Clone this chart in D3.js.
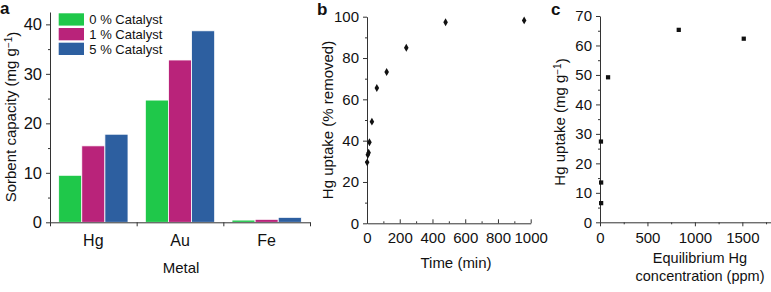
<!DOCTYPE html>
<html lang="en">
<head>
    <meta charset="UTF-8">
    <title>Sorbent capacity and Hg uptake</title>
    <script src="https://d3js.org/d3.v7.min.js"></script>
    <style>
        body { margin: 0; background: #fff; }
        svg text { font-family: 'Liberation Sans', Arial, Helvetica, sans-serif; fill: #111; }
        .domain, .tick line { stroke: #333; stroke-width: 1; }
        .panel-label { font-weight: bold; font-size: 17px; }
    </style>
</head>
<body>
<script>
    // panel a data
    const metals = ["Hg", "Au", "Fe"];
    const catalysts = ["0 % Catalyst", "1 % Catalyst", "5 % Catalyst"];
    const cat0 = [9.5, 24.7, 0.45];
    const cat1 = [15.45, 32.8, 0.6];
    const cat5 = [17.8, 38.7, 1.0];
    const barColors = ["#1fc84a", "#b9237a", "#2d5fa0"];

    // panel b data
    const timeMin = [1, 5, 10, 15, 30, 60, 120, 240, 480, 960];
    const uptakePct = [29.5, 33.2, 34.2, 39.2, 49.2, 65.5, 73.2, 85.0, 97.3, 98.2];

    // panel c data
    const eqConc = [12, 12, 10, 85, 830, 1515];
    const hgUptake = [6.5, 13.5, 27.4, 49.2, 65.3, 62.3];

    const svg = d3.select("body").append("svg")
        .attr("width", 771)
        .attr("height", 292);

    const tickFont = "15px";
    const titleFont = "15px";

    // helper: major + minor ticks on an axis
    function axisPair(g, axisFn, scale, major, minor, opts) {
        const inward = opts.inward ? -1 : 1;
        g.append("g").call(axisFn(scale).tickValues(minor).tickSize(2 * inward).tickFormat(""))
            .select(".domain").remove();
        const a = g.append("g").call(axisFn(scale).tickValues(major).tickSize(4 * inward)
            .tickSizeOuter(0).tickPadding(opts.pad).tickFormat(d3.format("d")));
        a.selectAll("text").style("font-size", opts.font || tickFont);
        return a;
    }

    // ---------- panel a ----------
    const ax = d3.scaleBand().domain(metals).range([50, 310]).paddingInner(0.2).paddingOuter(0.1);
    const axEdge = d3.scaleLinear().domain([0, 3]).range([50, 310]);
    const ay = d3.scaleLinear().domain([0, 42.5]).range([222.3, 12]);
    const sub = d3.scaleBand().domain(catalysts).range([0, ax.bandwidth()]);
    const seriesA = [cat0, cat1, cat5];

    const ga = svg.append("g");
    seriesA.forEach((vals, i) => {
        ga.selectAll(".bar" + i)
            .data(vals)
            .enter().append("rect")
            .attr("x", (d, j) => ax(metals[j]) + sub(catalysts[i]))
            .attr("y", d => ay(d))
            .attr("width", sub.bandwidth())
            .attr("height", d => ay(0) - ay(d))
            .attr("fill", barColors[i])
            .attr("stroke", "#fff")
            .attr("stroke-width", 0.8);
    });

    // y axis
    const gay = ga.append("g").attr("transform", "translate(50,0)");
    axisPair(gay, d3.axisLeft, ay, [0, 10, 20, 30, 40], [5, 15, 25, 35], {pad: 4, font: "16.5px"});

    // x axis: boundary ticks + category labels
    const gax = ga.append("g").attr("transform", "translate(0,222.3)");
    gax.call(d3.axisBottom(axEdge).tickValues([0, 1, 2, 3]).tickSize(4).tickSizeOuter(0).tickFormat(""));
    gax.append("g").call(d3.axisBottom(ax).tickSize(0).tickPadding(12))
        .call(g => g.select(".domain").remove())
        .selectAll("text").style("font-size", "16px");

    ga.append("text").attr("x", 181).attr("y", 272.5).attr("text-anchor", "middle")
        .style("font-size", titleFont).text("Metal");

    const aLab = ga.append("text").attr("transform", "translate(16,117) rotate(-90)")
        .attr("text-anchor", "middle").style("font-size", titleFont);
    aLab.append("tspan").text("Sorbent capacity (mg g");
    aLab.append("tspan").attr("dy", "-0.45em").style("font-size", "10px").text("\u22121");
    aLab.append("tspan").attr("dy", "0.45em").text(")");

    // legend
    const leg = ga.append("g");
    catalysts.forEach((c, i) => {
        leg.append("rect").attr("x", 58.7).attr("y", 13.3 + i * 14.7)
            .attr("width", 25.3).attr("height", 12.3).attr("fill", barColors[i]);
        leg.append("text").attr("x", 89.3).attr("y", 13.3 + i * 14.7 + 11)
            .style("font-size", "13px").text(c);
    });

    svg.append("text").attr("class", "panel-label").attr("x", 0).attr("y", 13.5).text("a");

    // ---------- panel b ----------
    const bx = d3.scaleLinear().domain([0, 1000]).range([367, 530.7]);
    const by = d3.scaleLinear().domain([0, 100]).range([223.3, 16.7]);
    const gb = svg.append("g");

    const gby = gb.append("g").attr("transform", "translate(367,0)");
    axisPair(gby, d3.axisLeft, by, [0, 20, 40, 60, 80, 100], [10, 30, 50, 70, 90], {pad: 4});
    const gbx = gb.append("g").attr("transform", "translate(0,223.3)");
    const bxa = axisPair(gbx, d3.axisBottom, bx, [0, 200, 400, 600, 800, 1000],
        [100, 300, 500, 700, 900], {pad: 6, inward: true});
    bxa.selectAll("text").attr("y", 9);

    gb.selectAll(".pt")
        .data(timeMin)
        .enter().append("path")
        .attr("transform", (d, i) => `translate(${bx(d)},${by(uptakePct[i])})`)
        .attr("d", d3.symbol().type(d3.symbolDiamond).size(18))
        .attr("fill", "#111");

    gb.append("text").attr("x", 456).attr("y", 268).attr("text-anchor", "middle")
        .style("font-size", titleFont).text("Time (min)");
    gb.append("text").attr("transform", "translate(333,120) rotate(-90)")
        .attr("text-anchor", "middle").style("font-size", titleFont)
        .text("Hg uptake (% removed)");

    svg.append("text").attr("class", "panel-label").attr("x", 317).attr("y", 15).text("b");

    // ---------- panel c ----------
    const cx = d3.scaleLinear().domain([0, 1800]).range([600, 770.8]);
    const cy = d3.scaleLinear().domain([0, 70]).range([222.3, 16]);
    const gc = svg.append("g");

    const gcy = gc.append("g").attr("transform", "translate(600,0)");
    axisPair(gcy, d3.axisLeft, cy, [0, 10, 20, 30, 40, 50, 60, 70],
        [5, 15, 25, 35, 45, 55, 65], {pad: 4});
    const gcx = gc.append("g").attr("transform", "translate(0,222.3)");
    axisPair(gcx, d3.axisBottom, cx, [0, 500, 1000, 1500], [250, 750, 1250, 1750], {pad: 6});

    gc.selectAll(".sq")
        .data(eqConc)
        .enter().append("path")
        .attr("transform", (d, i) => `translate(${cx(d)},${cy(hgUptake[i])})`)
        .attr("d", d3.symbol().type(d3.symbolSquare).size(18))
        .attr("fill", "#111");

    gc.append("text").attr("x", 700).attr("y", 263).attr("text-anchor", "middle")
        .style("font-size", "14.5px").text("Equilibrium Hg");
    gc.append("text").attr("x", 700).attr("y", 281).attr("text-anchor", "middle")
        .style("font-size", "14.5px").text("concentration (ppm)");

    const cLab = gc.append("text").attr("transform", "translate(565,122) rotate(-90)")
        .attr("text-anchor", "middle").style("font-size", titleFont);
    cLab.append("tspan").text("Hg uptake (mg g");
    cLab.append("tspan").attr("dy", "-0.45em").style("font-size", "10px").text("\u22121");
    cLab.append("tspan").attr("dy", "0.45em").text(")");

    svg.append("text").attr("class", "panel-label").attr("x", 551).attr("y", 15).text("c");
</script>
</body>
</html>
